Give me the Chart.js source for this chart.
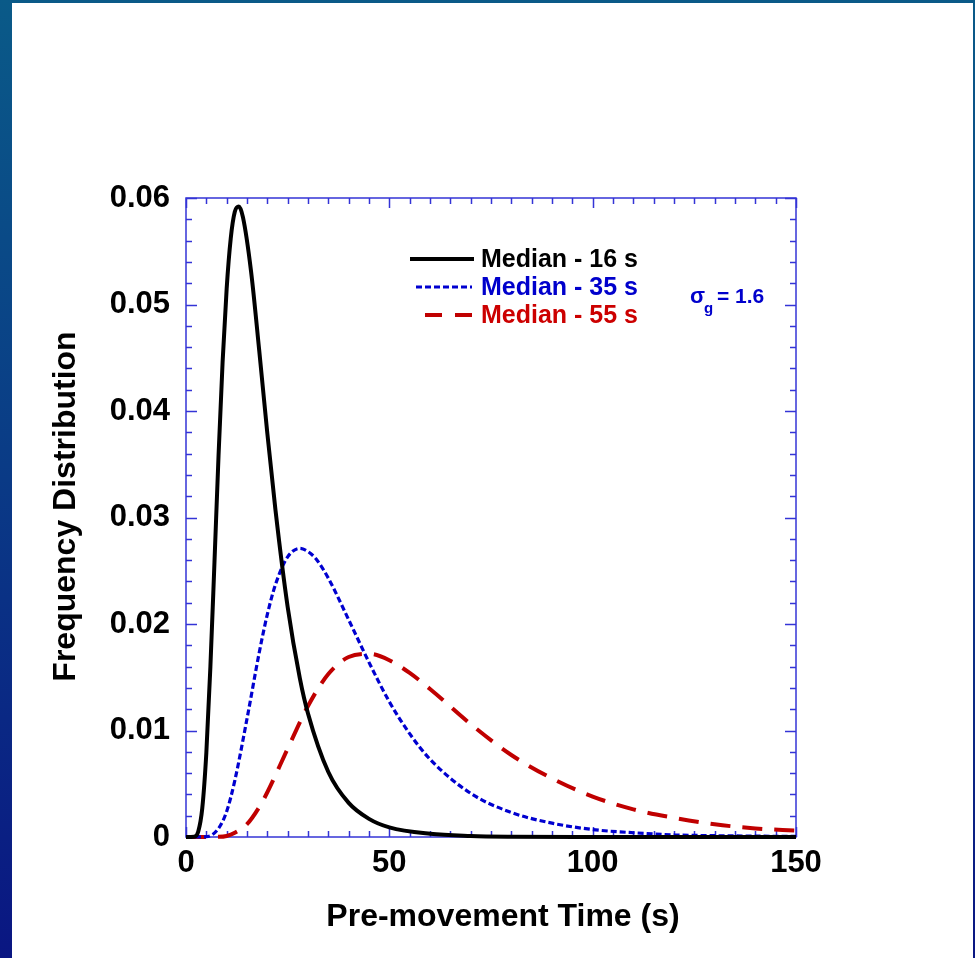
<!DOCTYPE html>
<html>
<head>
<meta charset="utf-8">
<script src="https://cdn.jsdelivr.net/npm/chart.js@4.4.1/dist/chart.umd.min.js"></script>
<style>
  html, body { margin: 0; padding: 0; }
  body { width: 975px; height: 958px; position: relative; overflow: hidden;
         background: linear-gradient(to bottom, #0a5a88 0%, #0a3a86 50%, #0a1682 100%); }
  #panel { position: absolute; left: 12px; top: 3px; right: 2px; bottom: 0; background: #fff; }
  #chart { position: absolute; left: 0; top: 0; }
</style>
</head>
<body>
<div id="panel"></div>
<canvas id="chart" width="975" height="958"></canvas>
<script>
// pre-movement time (s) and frequency values
const t16 = [0, 2, 3, 4, 5, 6, 7, 8, 9, 10, 11, 12, 13, 14, 16, 18, 20, 22, 25, 28, 30, 35, 40, 45, 50, 60, 70, 80, 100, 150];
const f16 = [0, 0.00002, 0.0005, 0.0027, 0.0079, 0.0160, 0.0258, 0.0358, 0.0446, 0.0515, 0.0562, 0.0587, 0.0592, 0.0582, 0.0531, 0.0457, 0.0379, 0.0307, 0.0216, 0.0149, 0.0116, 0.0061, 0.0032, 0.0017, 0.0009, 0.0003, 0.0001, 0.00003, 0, 0];

const t35 = [0, 5, 8, 10, 12, 15, 18, 20, 22, 25, 28, 30, 32, 35, 40, 45, 50, 55, 60, 70, 80, 90, 100, 110, 120, 135, 150];
const f35 = [0, 0.00003, 0.0008, 0.0024, 0.0053, 0.0111, 0.0173, 0.0209, 0.0237, 0.0263, 0.0271, 0.0268, 0.0261, 0.0243, 0.0204, 0.0164, 0.0127, 0.0097, 0.0073, 0.0041, 0.0023, 0.0013, 0.0007, 0.0004, 0.0002, 0.0001, 0.00005];

const t55 = [0, 8, 10, 12, 15, 18, 20, 25, 30, 35, 40, 45, 50, 55, 60, 70, 80, 90, 100, 110, 120, 130, 140, 150];
const f55 = [0, 0.00002, 0.0001, 0.0004, 0.0012, 0.0028, 0.0042, 0.0083, 0.0123, 0.0153, 0.0169, 0.0172, 0.0166, 0.0154, 0.0139, 0.0106, 0.0077, 0.0055, 0.0038, 0.0026, 0.0018, 0.0012, 0.0008, 0.0006];

const seriesLabels = ['Median - 16 s', 'Median - 35 s', 'Median - 55 s'];
const xTicks = [0, 50, 100, 150];
const yTicks = [0, 0.01, 0.02, 0.03, 0.04, 0.05, 0.06];
const xTitle = 'Pre-movement Time (s)';
const yTitle = 'Frequency Distribution';

const FONT = '"Liberation Sans", Arial, sans-serif';
const frameColor = '#3434d6';

const pts = (xs, ys) => xs.map((x, i) => ({ x, y: ys[i] }));

const styles = [
  { color: '#000000', width: 4, dash: [] },
  { color: '#0000d0', width: 3.2, dash: [6, 3] },
  { color: '#c00000', width: 4, dash: [20, 12] },
];

// frame, inward ticks, titles, legend
const framePlugin = {
  id: 'frame',
  beforeDatasetsDraw(chart) {
    const { ctx, chartArea: a, scales: { x, y } } = chart;
    ctx.save();
    ctx.strokeStyle = frameColor;
    ctx.lineWidth = 1.5;
    ctx.strokeRect(a.left, a.top, a.right - a.left, a.bottom - a.top);
    ctx.beginPath();
    for (let v = 0; v <= 150.001; v += 5) {
      const px = Math.round(x.getPixelForValue(v)) + 0.5;
      const len = xTicks.includes(Math.round(v)) ? 10 : 6;
      ctx.moveTo(px, a.bottom); ctx.lineTo(px, a.bottom - len);
      ctx.moveTo(px, a.top); ctx.lineTo(px, a.top + len);
    }
    for (let i = 0; i <= 30; i++) {
      const py = Math.round(y.getPixelForValue(i * 0.002)) + 0.5;
      const len = i % 5 === 0 ? 11 : 6;
      ctx.moveTo(a.left, py); ctx.lineTo(a.left + len, py);
      ctx.moveTo(a.right, py); ctx.lineTo(a.right - len, py);
    }
    ctx.stroke();
    ctx.restore();
  },
  afterDraw(chart) {
    const { ctx, chartArea: a } = chart;
    ctx.save();
    // axis titles
    ctx.fillStyle = '#000';
    ctx.font = 'bold 32px ' + FONT;
    ctx.textAlign = 'center';
    ctx.textBaseline = 'middle';
    ctx.fillText(xTitle, (a.left + a.right) / 2 + 12, 917);
    ctx.save();
    ctx.translate(66, (a.top + a.bottom) / 2 - 11);
    ctx.rotate(-Math.PI / 2);
    ctx.fillText(yTitle, 0, 0);
    ctx.restore();
    ctx.textAlign = 'left';

    // legend
    const textColors = ['#000000', '#0000cc', '#cc0000'];
    const rows = [259, 287, 315];
    const lineSpans = [[410, 474], [416, 472], [425, 472]];
    seriesLabels.forEach((lab, i) => {
      const s = styles[i];
      ctx.strokeStyle = s.color;
      ctx.lineWidth = s.width;
      ctx.setLineDash(i === 2 ? [17, 13] : s.dash);
      ctx.beginPath();
      ctx.moveTo(lineSpans[i][0], rows[i]);
      ctx.lineTo(lineSpans[i][1], rows[i]);
      ctx.stroke();
      ctx.setLineDash([]);
      ctx.fillStyle = textColors[i];
      ctx.font = 'bold 25px ' + FONT;
      ctx.textBaseline = 'middle';
      ctx.fillText(lab, 481, rows[i] + 1);
    });
    // sigma_g annotation
    ctx.fillStyle = '#0000cc';
    ctx.textBaseline = 'alphabetic';
    ctx.font = 'bold 22px ' + FONT;
    ctx.fillText('\u03c3', 690, 303);
    ctx.font = 'bold 15px ' + FONT;
    ctx.fillText('g', 704, 313);
    ctx.font = 'bold 21px ' + FONT;
    ctx.fillText('= 1.6', 717, 303);
    ctx.restore();
  }
};

new Chart(document.getElementById('chart'), {
  type: 'line',
  data: {
    datasets: [pts(t16, f16), pts(t35, f35), pts(t55, f55)].map((d, i) => ({
      label: seriesLabels[i],
      data: d,
      borderColor: styles[i].color,
      borderWidth: styles[i].width,
      borderDash: styles[i].dash,
      pointRadius: 0,
      fill: false,
      cubicInterpolationMode: 'monotone',
      clip: false,
    })),
  },
  options: {
    responsive: false,
    animation: false,
    layout: { padding: { left: 0, top: 198, right: 179, bottom: 0 } },
    plugins: { legend: { display: false }, tooltip: { enabled: false } },
    scales: {
      x: {
        type: 'linear', min: 0, max: 150,
        afterFit: s => { s.height = 121; },
        afterBuildTicks: s => { s.ticks = xTicks.map(v => ({ value: v })); },
        grid: { display: false, drawTicks: false },
        border: { display: false },
        ticks: { color: '#000', padding: 8, font: { family: FONT, size: 31, weight: 'bold' } },
      },
      y: {
        min: 0, max: 0.06,
        afterFit: s => { s.width = 186; },
        afterBuildTicks: s => { s.ticks = yTicks.map(v => ({ value: v })); },
        grid: { display: false, drawTicks: false },
        border: { display: false },
        ticks: { color: '#000', padding: 16, font: { family: FONT, size: 31, weight: 'bold' },
                 callback: v => v === 0 ? '0' : v.toFixed(2) },
      },
    },
  },
  plugins: [framePlugin],
});
</script>
</body>
</html>
